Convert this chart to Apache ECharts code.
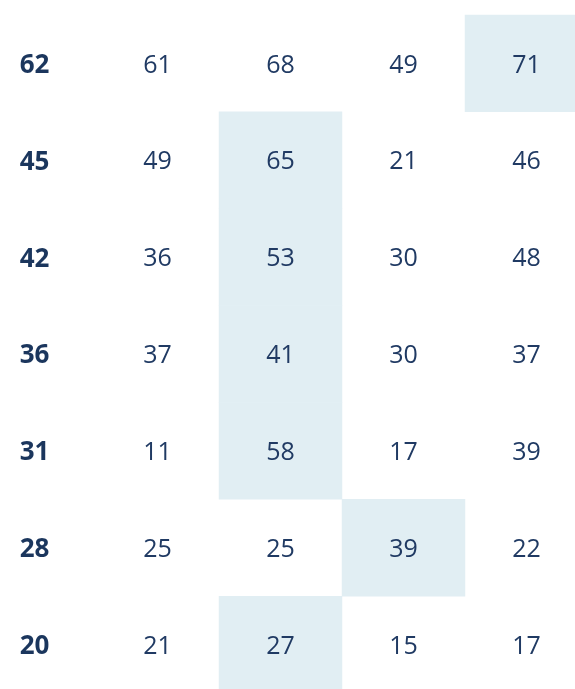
<!DOCTYPE html>
<html>
<head>
<meta charset="utf-8">
<script src="https://cdn.jsdelivr.net/npm/echarts@6/dist/echarts.min.js"></script>
<style>
html,body{margin:0;padding:0;background:#fff;}
#chart{width:575px;height:689px;}
</style>
</head>
<body>
<div id="chart"></div>
<script>
const rowLabels = [62, 45, 42, 36, 31, 28, 20];
const colA = [61, 49, 36, 37, 11, 25, 21];
const colB = [68, 65, 53, 41, 58, 25, 27];
const colC = [49, 21, 30, 30, 17, 39, 15];
const colD = [71, 46, 48, 37, 39, 22, 17];
const columns = ['c0', 'c1', 'c2', 'c3', 'c4'];

const valueCols = [colA, colB, colC, colD];
const data = [];
rowLabels.forEach((v, r) => {
  data.push({
    value: [0, r, v],
    itemStyle: { color: 'rgba(0,0,0,0)' },
    label: { fontWeight: 'bold', color: '#1B365D', fontSize: 26 }
  });
  const rowVals = valueCols.map(c => c[r]);
  const mx = Math.max(...rowVals);
  let used = false;
  valueCols.forEach((c, ci) => {
    const isMax = c[r] === mx && !used;
    if (isMax) used = true;
    data.push({
      value: [ci + 1, r, c[r]],
      itemStyle: { color: isMax ? '#E1EEF3' : 'rgba(0,0,0,0)' }
    });
  });
});

const chart = echarts.init(document.getElementById('chart'), null, { renderer: 'canvas' });
chart.setOption({
  animation: false,
  backgroundColor: '#ffffff',
  grid: { left: -27, top: 15, width: 615, height: 678, containLabel: false, outerBoundsMode: 'none' },
  xAxis: {
    type: 'category', data: columns, show: false,
    axisLine: { show: false }, axisTick: { show: false }, splitLine: { show: false }
  },
  yAxis: {
    type: 'category', data: rowLabels.map(String), inverse: true, show: false,
    axisLine: { show: false }, axisTick: { show: false }, splitLine: { show: false }
  },
  series: [{
    type: 'heatmap',
    data: data,
    label: {
      show: true,
      formatter: p => p.value[2],
      fontFamily: 'Open Sans',
      fontSize: 25,
      color: '#203A63',
      offset: [0, 2]
    },
    itemStyle: { borderWidth: 0 },
    emphasis: { disabled: true }
  }]
});
</script>
</body>
</html>
